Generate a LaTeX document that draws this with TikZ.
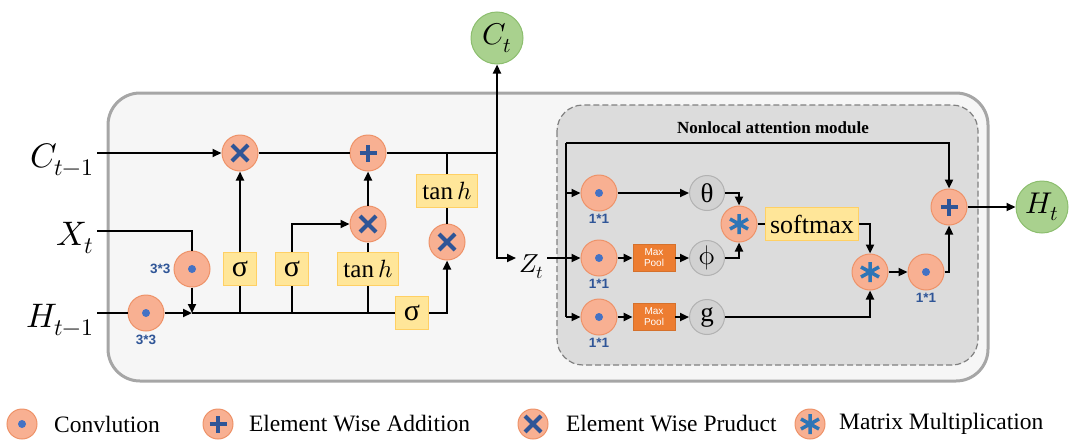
\documentclass[tikz,border=0pt]{standalone}
\usepackage{fontspec}
\usepackage{unicode-math}
\setmainfont{Liberation Serif}
\setsansfont{Liberation Sans}
\usetikzlibrary{arrows.meta,positioning}
\definecolor{opfill}{RGB}{248,176,146}
\definecolor{opline}{RGB}{238,146,104}
\definecolor{symblue}{RGB}{47,85,151}
\definecolor{dotblue}{RGB}{68,114,196}
\definecolor{starblue}{RGB}{46,117,182}
\definecolor{gatefill}{RGB}{255,230,153}
\definecolor{gateline}{RGB}{255,208,100}
\definecolor{poolfill}{RGB}{237,125,49}
\definecolor{greyfill}{RGB}{210,210,210}
\definecolor{greenfill}{RGB}{169,209,142}
\definecolor{greenline}{RGB}{140,190,110}
\definecolor{cellfill}{RGB}{246,246,246}
\definecolor{cellline}{RGB}{166,166,166}
\definecolor{attnfill}{RGB}{220,220,220}
\begin{document}
\begin{tikzpicture}[
        x=1pt, y=-1pt,
        line width=2.2pt,
        >={Triangle[length=9pt,width=8pt]},
        op/.style={circle, draw=opline, line width=1pt, fill=opfill,
                   minimum size=36pt, inner sep=0pt},
        conv/.style={op, path picture={\fill[dotblue] (path picture bounding box.center) circle (4pt);}},
        prod/.style={op, path picture={\draw[symblue, line width=4pt, shift={(path picture bounding box.center)}]
                   (-8pt,-8pt) -- (8pt,8pt) (-8pt,8pt) -- (8pt,-8pt);}},
        add/.style={op, path picture={\draw[symblue, line width=4pt, shift={(path picture bounding box.center)}]
                   (-8.5pt,0pt) -- (8.5pt,0pt) (0pt,-8.5pt) -- (0pt,8.5pt);}},
        star/.style={op, path picture={\draw[starblue, line width=3.5pt, shift={(path picture bounding box.center)}]
                   (0pt,-10pt) -- (0pt,10pt) (-9pt,-5pt) -- (9pt,5pt) (-9pt,5pt) -- (9pt,-5pt);}},
        gate/.style={rectangle, draw=gateline, line width=1pt, fill=gatefill, minimum width=33pt,
                     minimum height=33pt, inner sep=2pt, font=\fontsize{30}{30}\selectfont},
        tanhbox/.style={gate, minimum width=61pt, font=\fontsize{25}{25}\selectfont},
        pool/.style={rectangle, draw=poolfill!90!black, line width=0.6pt, fill=poolfill, text=white,
                     minimum width=42pt, minimum height=27pt, inner sep=0pt, align=center,
                     font=\sffamily\fontsize{10}{11}\selectfont},
        feat/.style={circle, draw=greyfill!85!black, line width=1pt, fill=greyfill,
                     minimum size=35pt, inner sep=0pt, font=\fontsize{27}{27}\selectfont},
        state/.style={circle, draw=greenline, line width=1pt, fill=greenfill,
                      minimum size=52pt, inner sep=0pt, font=\fontsize{30}{30}\selectfont},
        kern/.style={text=symblue, inner sep=1pt, font=\sffamily\bfseries\fontsize{13.5}{13.5}\selectfont},
        inlab/.style={inner sep=2pt, text height=28pt, text depth=0pt, font=\fontsize{34}{34}\selectfont},
        legtext/.style={anchor=west, inner sep=0pt, font=\fontsize{23.5}{23.5}\selectfont}
    ]
        \useasboundingbox (0,0) rectangle (1084,442);
        \draw[cellline, line width=3pt, fill=cellfill, rounded corners=32pt] (108,93) rectangle (988,381);
        \draw[gray, line width=1.2pt, dash pattern=on 6pt off 3pt, fill=attnfill, rounded corners=26pt]
            (557,105) rectangle (978,365);
        \node[font=\bfseries\fontsize{17}{17}\selectfont] (title) at (773,128) {Nonlocal attention module};

        \node[inlab, anchor=east] (cprev) at (97,153) {$C_{t-1}$};
        \node[inlab, anchor=east] (xin)   at (97,231) {$X_t$};
        \node[inlab, anchor=east] (hprev) at (97,313) {$H_{t-1}$};

        \node[conv] (cv1) at (146,313) {};
        \node[conv] (cv2) at (192,269) {};
        \node[kern, below=1pt of cv1] (k1) {3*3};
        \node[kern, left=1pt of cv2]  (k2) {3*3};
        \coordinate (j) at (192,313);

        \node[prod] (mul1) at (240,153) {};
        \node[add]  (add1) at (368,153) {};
        \node[prod] (mul2) at (368,224) {};
        \node[prod] (mul3) at (447,242) {};
        \node[gate] (sg1) at (240,269) {σ};
        \node[gate] (sg2) at (292,269) {σ};
        \node[tanhbox] (th1) at (368,269) {$\tan h$};
        \node[gate] (sg3) at (412,313) {σ};
        \node[tanhbox] (th2) at (447,191) {$\tan h$};
        \coordinate (k) at (497,153);

        \node[state] (ct) at (497,38) {$C_t$};
        \node[inlab, anchor=west, font=\fontsize{26}{26}\selectfont] (zt) at (516,258) {$Z_t$};

        \draw[->] (cprev.east) -- (mul1);
        \draw (mul1) -- (add1);
        \draw (add1) -- (k);
        \draw[->] (k) -- (ct);
        \draw[->] (k) -- (k |- zt) -- (zt.west);
        \draw (xin.east) -| (cv2);
        \draw (hprev.east) -- (cv1);
        \draw[->] (cv1) -- (j);
        \draw[->] (cv2) -- (j);
        \draw (j) -- (sg3);
        \draw[->] (sg3) -| (mul3);
        \draw (sg1) -- (sg1 |- j);
        \draw[->] (sg1) -- (mul1);
        \draw (sg2) -- (sg2 |- j);
        \draw[->] (sg2) |- (mul2);
        \draw (th1) -- (th1 |- j);
        \draw (th1) -- (mul2);
        \draw[->] (mul2) -- (add1);
        \draw (th2) -- (th2 |- k);
        \draw (th2) -- (mul3);

        \node[conv] (ca) at (599,193) {};
        \node[conv] (cb) at (599,258) {};
        \node[conv] (cc) at (599,317) {};
        \node[kern, below=1pt of ca] (ka) {1*1};
        \node[kern, below=1pt of cb] (kb) {1*1};
        \node[kern, below=1pt of cc] (kc) {1*1};
        \node[pool] (pb) at (654,258) {Max\\Pool};
        \node[pool] (pc) at (654,317) {Max\\Pool};
        \node[feat] (th) at (707,193) {θ};
        \node[feat] (ph) at (707,258) {$\upphi$};
        \node[feat] (gg) at (707,317) {g};
        \node[star] (mm1) at (739,224) {};
        \node[gate, minimum width=93pt, font=\fontsize{26}{26}\selectfont] (sm) at (812,224) {softmax};
        \node[star] (mm2) at (870,272) {};
        \node[conv] (cd) at (926,272) {};
        \node[kern, below=1pt of cd] (kd) {1*1};
        \node[add] (add2) at (949,207) {};
        \node[state] (ht) at (1042,207) {$H_t$};
        \coordinate (bt) at (566,143);
        \coordinate (bb) at (566,317);

        \draw[->] (zt.east) -- (cb);
        \draw (bt) -- (bb);
        \draw[->] (bb) -- (cc);
        \draw[->] (bt |- ca) -- (ca);
        \draw[->] (bt) -| (add2);
        \draw[->] (ca) -- (th);
        \draw[->] (cb) -- (pb);
        \draw[->] (pb) -- (ph);
        \draw[->] (cc) -- (pc);
        \draw[->] (pc) -- (gg);
        \draw[->] (th) -| (mm1);
        \draw[->] (ph) -| (mm1);
        \draw (mm1) -- (sm);
        \draw[->] (sm) -| (mm2);
        \draw[->] (gg) -| (mm2);
        \draw[->] (mm2) -- (cd);
        \draw[->] (cd) -| (add2);
        \draw[->] (add2) -- (ht);

        \node[conv, minimum size=30pt] (lg1) at (22,424) {};
        \node[legtext] (lt1) at (53,424) {Convlution};
        \node[add, minimum size=30pt] (lg2) at (218,424) {};
        \node[legtext] (lt2) at (248,424) {Element Wise Addition};
        \node[prod, minimum size=30pt] (lg3) at (533,424) {};
        \node[legtext] (lt3) at (565,424) {Element Wise Pruduct};
        \node[star, minimum size=30pt] (lg4) at (810,424) {};
        \node[legtext] (lt4) at (838,424) {Matrix Multiplication};
    \end{tikzpicture}
\end{document}
